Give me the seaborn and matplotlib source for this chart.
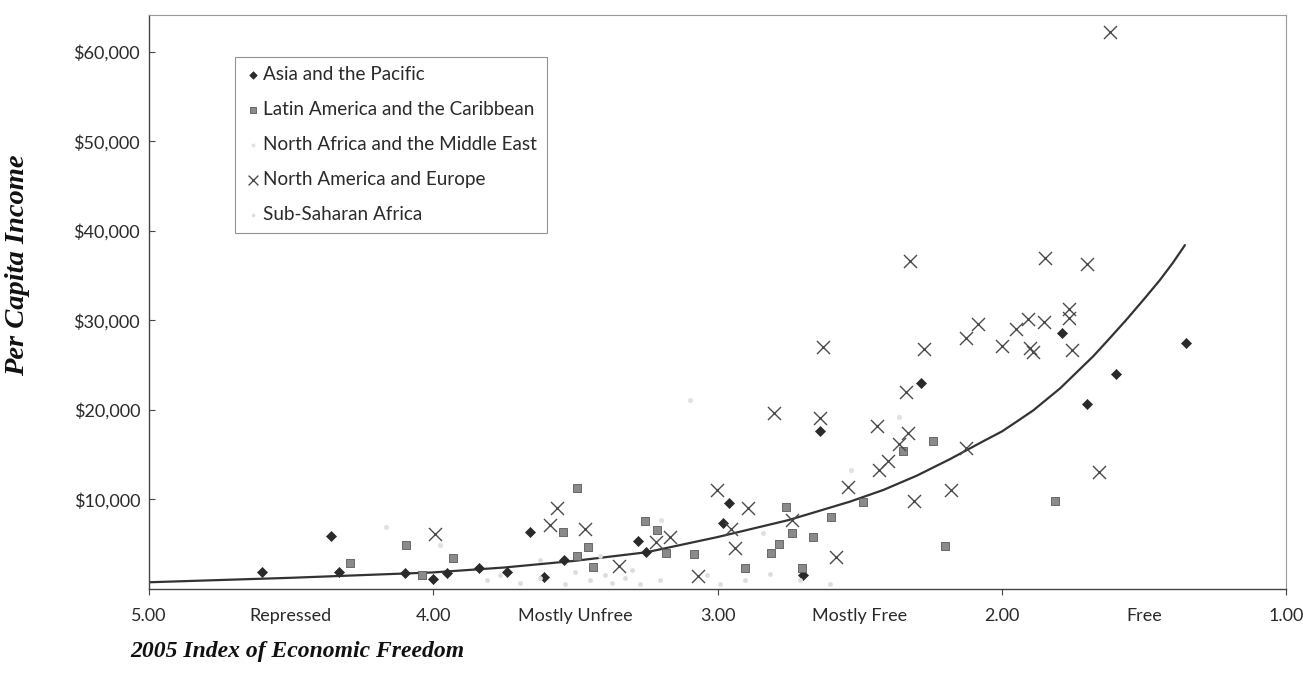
import matplotlib
matplotlib.use("Agg")
import matplotlib.pyplot as plt
import seaborn as sns
import pandas as pd
from matplotlib.ticker import FixedLocator, FuncFormatter

# ---------------- data ----------------
asia_x = [4.60, 4.36, 4.33, 4.10, 4.00, 3.95, 3.84, 3.74, 3.66, 3.61, 3.54,
          3.28, 3.25, 2.98, 2.96, 2.70, 2.64, 2.285, 1.79, 1.70, 1.60, 1.353]
asia_y = [1930, 5920, 1930, 1820, 1120, 1820, 2380, 1930, 6400, 1300, 3240,
          5360, 4100, 7410, 9570, 1560, 17650, 23040, 28630, 20660, 24010, 27510]

latin_x = [4.29, 4.095, 4.04, 3.93, 3.544, 3.495, 3.495, 3.454, 3.437, 3.255,
           3.214, 3.181, 3.082, 2.903, 2.813, 2.783, 2.759, 2.737, 2.702, 2.663,
           2.601, 2.490, 2.347, 2.244, 2.200, 1.814]
latin_y = [2870, 4910, 1560, 3500, 6400, 11250, 3690, 4660, 2490, 7600,
           6590, 3990, 3870, 2310, 3990, 5030, 9190, 6290, 2310, 5840,
           8080, 9750, 15450, 16570, 4800, 9860]

nafrica_x = [4.165, 3.975, 3.20, 3.097, 2.84, 2.53, 2.362]
nafrica_y = [6930, 4900, 7700, 21100, 6250, 13300, 19200]

namerica_x = [3.993, 3.589, 3.565, 3.466, 3.345, 3.217, 3.167, 3.067, 3.003,
              2.954, 2.938, 2.892, 2.800, 2.739, 2.640, 2.628, 2.584, 2.542,
              2.440, 2.431, 2.400, 2.361, 2.337, 2.329, 2.324, 2.308, 2.274,
              2.179, 2.128, 2.127, 2.085, 1.999, 1.952, 1.910, 1.902, 1.892,
              1.852, 1.849, 1.763, 1.763, 1.755, 1.700, 1.658, 1.620]
namerica_y = [6110, 7150, 9010, 6670, 2570, 5280, 5840, 1450, 11060,
              6670, 4550, 9010, 19700, 7710, 19070, 27060, 3540, 11430,
              18210, 13290, 14330, 16200, 22040, 17390, 36670, 9860, 26770,
              11060, 15720, 28000, 29570, 27180, 29040, 30130, 26890, 26510,
              29790, 36940, 31240, 30240, 26700, 36300, 13040, 62180]

ssafrica_x = [3.81, 3.765, 3.694, 3.624, 3.624, 3.536, 3.501, 3.448, 3.413,
              3.396, 3.371, 3.325, 3.300, 3.272, 3.202, 3.037, 2.991, 2.903,
              2.815, 2.710, 2.605]
ssafrica_y = [1000, 1560, 670, 1230, 3240, 560, 1900, 1000, 3690,
              1560, 670, 1230, 2120, 560, 1000, 1560, 560, 1000,
              1680, 1000, 560]

# trend curve
trend_x = [5.0, 4.75, 4.5, 4.25, 4.0, 3.75, 3.5, 3.25, 3.0, 2.75, 2.535, 2.417,
           2.30, 2.183, 2.066, 2.0, 1.948, 1.89, 1.796, 1.679, 1.62, 1.562,
           1.50, 1.445, 1.40, 1.357]
trend_y = [750, 1000, 1250, 1550, 1850, 2400, 3150, 4100, 5800, 7700, 9750, 11060,
           12650, 14500, 16500, 17600, 18700, 19950, 22400, 26000, 28050, 30100,
           32400, 34500, 36400, 38400]

regions = ["Asia and the Pacific", "Latin America and the Caribbean",
           "North Africa and the Middle East", "North America and Europe",
           "Sub-Saharan Africa"]

x_major = [5, 4, 3, 2, 1]
x_minor = [4.5, 3.5, 2.5, 1.5]
x_minor_labels = ["Repressed", "Mostly Unfree", "Mostly Free", "Free"]
y_ticks = [10000, 20000, 30000, 40000, 50000, 60000]

# ---------------- build frame ----------------
frames = []
for name, xs, ys in zip(regions,
                        [asia_x, latin_x, nafrica_x, namerica_x, ssafrica_x],
                        [asia_y, latin_y, nafrica_y, namerica_y, ssafrica_y]):
    frames.append(pd.DataFrame({"freedom": xs, "income": ys, "region": name}))
df = pd.concat(frames, ignore_index=True)
trend = pd.DataFrame({"freedom": trend_x, "income": trend_y})

# ---------------- style ----------------
sns.set_theme(style="white")
plt.rcParams["font.family"] = ["Lato", "DejaVu Sans"]

fig = plt.figure(figsize=(13.03, 6.75), dpi=100)
ax = fig.add_axes([148.5 / 1303, 86 / 675, (1286.5 - 148.5) / 1303, (589 - 15) / 675])

styles = {
    "Asia and the Pacific": dict(marker="D", s=26, color="#2a2a2a", edgecolor="#2a2a2a", linewidth=0.5),
    "Latin America and the Caribbean": dict(marker="s", s=38, color="#8a8a8a", edgecolor="#5a5a5a", linewidth=0.6),
    "North Africa and the Middle East": dict(marker="o", s=14, color="#e2e2e2", edgecolor="#e2e2e2", linewidth=0),
    "North America and Europe": dict(marker="x", s=88, color="#4a4a4a", linewidth=1.0),
    "Sub-Saharan Africa": dict(marker="o", s=12, color="#dddddd", edgecolor="#dddddd", linewidth=0),
}

sns.lineplot(data=trend, x="freedom", y="income", ax=ax, color="#333333",
             linewidth=1.6, zorder=2, sort=False)

for name in regions:
    sub = df[df["region"] == name]
    sns.scatterplot(data=sub, x="freedom", y="income", ax=ax, label=name, zorder=3,
                    **styles[name])

ax.set_xlim(5, 1)
ax.set_ylim(0, 64100)

ax.xaxis.set_major_locator(FixedLocator(x_major))
ax.xaxis.set_major_formatter(FuncFormatter(lambda v, p: f"{v:.2f}"))
ax.xaxis.set_minor_locator(FixedLocator(x_minor))
ax.set_xticklabels(x_minor_labels, minor=True)
ax.yaxis.set_major_locator(FixedLocator(y_ticks))
ax.yaxis.set_major_formatter(FuncFormatter(lambda v, p: f"${v:,.0f}"))

ax.tick_params(axis="x", which="major", direction="out", length=4, width=0.8,
               color="#444444", pad=10, bottom=True, labelsize=13, labelcolor="#2a2a2a")
ax.tick_params(axis="x", which="minor", length=0, pad=14, bottom=True,
               labelsize=13, labelcolor="#2a2a2a")
ax.tick_params(axis="y", which="major", direction="in", length=4, width=0.8,
               color="#444444", pad=6, left=True, labelsize=13, labelcolor="#2a2a2a")

for side in ["left", "bottom"]:
    ax.spines[side].set_color("#444444")
    ax.spines[side].set_linewidth(1.0)
for side in ["top", "right"]:
    ax.spines[side].set_color("#9a9a9a")
    ax.spines[side].set_linewidth(0.8)

ax.set_xlabel("")
ax.set_ylabel("")

fig.text(18 / 1303, 1 - 265 / 675, "Per Capita Income", rotation=90,
         ha="center", va="center", fontsize=20.5, fontweight="bold",
         fontstyle="italic", family=["Liberation Serif", "DejaVu Serif"], color="#111111")
fig.text(130 / 1303, 1 - 651 / 675, "2005 Index of Economic Freedom",
         ha="left", va="center", fontsize=17, fontweight="bold",
         fontstyle="italic", family=["Liberation Serif", "DejaVu Serif"], color="#111111")

leg = ax.legend(loc="upper left", bbox_to_anchor=(235 / 1303, 1 - 57 / 675),
                bbox_transform=fig.transFigure, frameon=True, fancybox=False,
                borderaxespad=0, borderpad=0.5, labelspacing=0.95, handletextpad=0.1,
                handlelength=0.9, markerscale=0.75,
                prop=dict(family=["Lato", "DejaVu Sans"], size=13.6))
leg.get_frame().set_edgecolor("#777777")
leg.get_frame().set_linewidth(0.8)
for t in leg.get_texts():
    t.set_color("#2a2a2a")

fig.savefig("out.png", dpi=100, facecolor="white")
